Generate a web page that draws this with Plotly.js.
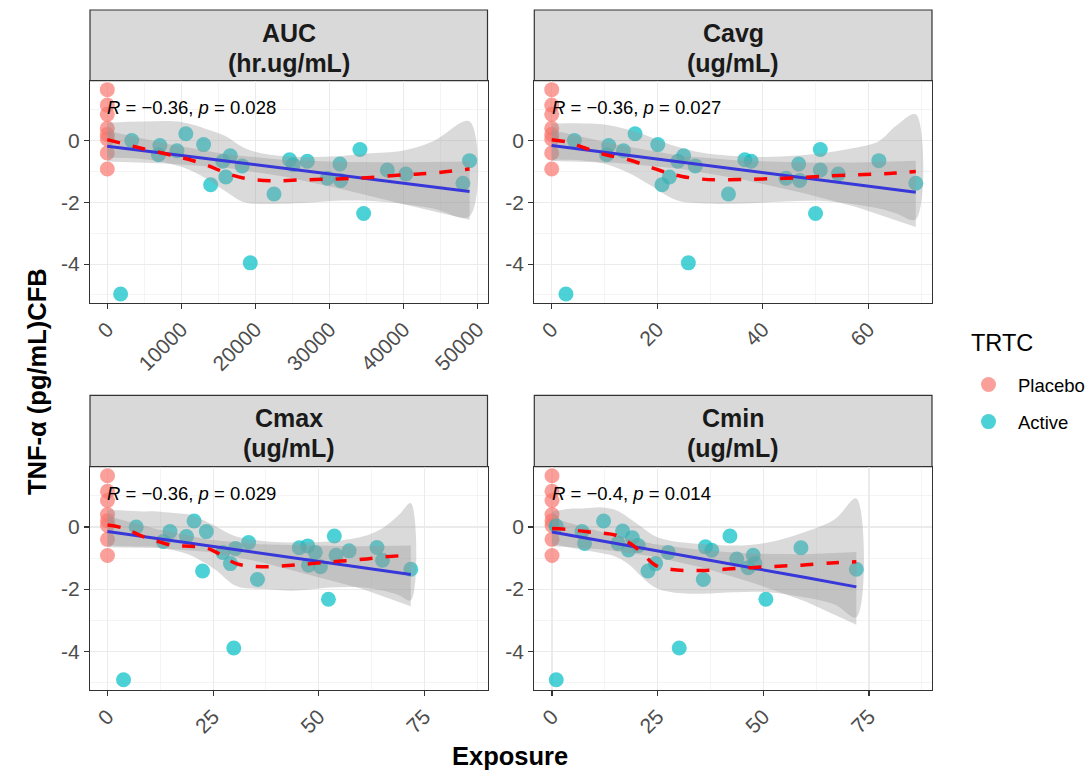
<!DOCTYPE html>
<html>
<head>
<meta charset="utf-8">
<script src="https://cdn.plot.ly/plotly-3.0.1.min.js"></script>
<style>html,body{margin:0;padding:0;background:#fff;}#chart{width:1092px;height:771px;}</style>
</head>
<body>
<div id="chart"></div>
<script>
// ---------- DATA ----------
var panelNames = ["AUC", "Cavg", "Cmax", "Cmin"];
var panelUnits = ["(hr.ug/mL)", "(ug/mL)", "(ug/mL)", "(ug/mL)"];
var corrLabels = ["<i>R</i> = \u22120.36, <i>p</i> = 0.028", "<i>R</i> = \u22120.36, <i>p</i> = 0.027",
                  "<i>R</i> = \u22120.36, <i>p</i> = 0.029", "<i>R</i> = \u22120.4, <i>p</i> = 0.014"];
var groupNames = ["Placebo", "Active"];
var legendTitle = "TRTC";

var placeboExposure = [0, 0, 0, 0, 0, 0, 0, 0];
var placeboCFB = [1.65, 1.15, 0.85, 0.4, 0.2, 0.05, -0.4, -0.92];

var aucX = [1800, 3300, 6900, 7100, 9400, 10600, 13000, 13950, 15600, 16000, 16600, 18200, 19300, 22500, 24600, 25100, 27000, 29700, 31400, 31500, 34100, 34600, 37800, 40300, 48000, 48900];
var aucY = [-4.97, 0.0, -0.46, -0.16, -0.33, 0.22, -0.13, -1.43, -0.67, -1.18, -0.49, -0.82, -3.96, -1.73, -0.62, -0.78, -0.67, -1.22, -0.76, -1.29, -0.29, -2.36, -0.95, -1.08, -1.38, -0.65];

var cavgX = [2.7, 4.3, 10.4, 10.8, 13.6, 15.8, 20.1, 20.9, 22.3, 23.9, 25.0, 25.9, 27.2, 33.5, 36.6, 37.8, 44.4, 46.8, 47.0, 50.9, 50.0, 50.9, 54.3, 62.0, 69.0];
var cavgY = [-4.97, 0.0, -0.46, -0.16, -0.33, 0.22, -0.13, -1.43, -1.18, -0.67, -0.49, -3.96, -0.82, -1.73, -0.62, -0.67, -1.22, -0.76, -1.29, -0.29, -2.36, -0.95, -1.08, -0.65, -1.38];

var cmaxX = [3.8, 6.8, 13.2, 14.8, 18.7, 20.5, 22.5, 23.4, 27.3, 29.1, 29.9, 30.3, 33.4, 35.5, 45.4, 47.4, 47.6, 49.2, 50.4, 52.3, 53.7, 54.1, 57.2, 63.8, 65.1, 71.8];
var cmaxY = [-4.92, 0.0, -0.47, -0.15, -0.31, 0.19, -1.42, -0.15, -0.82, -1.18, -3.9, -0.69, -0.5, -1.69, -0.67, -0.61, -1.23, -0.82, -1.28, -2.33, -0.29, -0.91, -0.77, -0.66, -1.07, -1.36];

var cminX = [1.0, 1.0, 7.1, 7.7, 12.2, 15.6, 16.7, 18.1, 19.0, 20.4, 22.7, 24.5, 27.5, 30.1, 35.8, 36.3, 37.8, 42.1, 43.7, 46.4, 47.6, 48.0, 50.6, 58.9, 72.0];
var cminY = [-4.92, 0.03, -0.15, -0.53, 0.19, -0.53, -0.13, -0.74, -0.35, -0.6, -1.42, -1.18, -0.82, -3.9, -1.69, -0.64, -0.75, -0.29, -1.03, -1.31, -0.91, -1.18, -2.33, -0.67, -1.36];

// linear fit (blue) and its confidence band
var aucLinX = [0, 8000, 16000, 24000, 32000, 40000, 48900];
var aucLinY = [-0.18, -0.42, -0.66, -0.90, -1.14, -1.38, -1.65];
var aucLinHi = [0.32, -0.10, -0.44, -0.63, -0.69, -0.70, -0.68];
var aucLinLo = [-0.68, -0.74, -0.88, -1.17, -1.59, -2.06, -2.56];
var cavgLinX = [0, 12, 24, 36, 48, 58, 69];
var cavgLinY = [-0.16, -0.42, -0.69, -0.95, -1.21, -1.43, -1.67];
var cavgLinHi = [0.34, -0.12, -0.48, -0.65, -0.71, -0.71, -0.65];
var cavgLinLo = [-0.66, -0.72, -0.90, -1.25, -1.71, -2.17, -2.80];
var cmaxLinX = [0, 12, 24, 36, 48, 60, 71.8];
var cmaxLinY = [-0.15, -0.38, -0.61, -0.84, -1.07, -1.30, -1.53];
var cmaxLinHi = [0.35, -0.08, -0.41, -0.56, -0.60, -0.62, -0.60];
var cmaxLinLo = [-0.65, -0.68, -0.81, -1.12, -1.54, -1.98, -2.55];
var cminLinX = [0, 12, 24, 36, 48, 60, 72];
var cminLinY = [-0.16, -0.45, -0.75, -1.04, -1.34, -1.63, -1.93];
var cminLinHi = [0.29, -0.17, -0.55, -0.76, -0.86, -0.88, -0.81];
var cminLinLo = [-0.61, -0.73, -0.95, -1.32, -1.82, -2.40, -3.15];

// loess fit (red dashed) and its band
var aucLoeX = [0, 5000, 10000, 13500, 16000, 18500, 22000, 26500, 31000, 35000, 40000, 44000, 48900];
var aucLoeY = [0.03, -0.27, -0.55, -0.8, -1.05, -1.22, -1.3, -1.27, -1.24, -1.2, -1.11, -1.05, -0.92];
var aucLoeHi = [0.58, 0.62, 0.6, 0.36, 0.14, -0.24, -0.46, -0.53, -0.51, -0.42, -0.32, -0.02, 0.62];
var aucLoeLo = [-0.55, -0.6, -0.85, -1.25, -1.65, -2.0, -2.05, -2.02, -1.95, -1.95, -2.05, -2.2, -2.45];
var cavgLoeX = [0, 3, 6.3, 10, 14.6, 18.7, 22, 24.7, 28, 31.6, 38, 44.3, 50.6, 57, 62, 65.2, 69];
var cavgLoeY = [0.03, -0.05, -0.24, -0.45, -0.62, -0.86, -1.05, -1.16, -1.24, -1.27, -1.25, -1.22, -1.16, -1.11, -1.08, -1.05, -1.0];
var cavgLoeHi = [0.55, 0.56, 0.55, 0.52, 0.35, 0.12, -0.1, -0.24, -0.38, -0.46, -0.53, -0.51, -0.42, -0.25, -0.02, 0.47, 0.85];
var cavgLoeLo = [-0.6, -0.62, -0.65, -0.75, -1.05, -1.45, -1.8, -1.98, -2.03, -2.05, -2.03, -1.97, -1.95, -2.05, -2.2, -2.35, -2.55];
var cmaxLoeX = [0, 3.8, 8.5, 11.6, 15.6, 19.5, 23.0, 25.8, 30.5, 36.8, 44.7, 52.5, 60.4, 65.1, 69.0, 71.8];
var cmaxLoeY = [0.06, -0.04, -0.31, -0.45, -0.6, -0.62, -0.66, -0.82, -1.18, -1.28, -1.22, -1.13, -1.04, -0.97, -0.93, -0.9];
var cmaxLoeHi = [0.55, 0.53, 0.5, 0.5, 0.45, 0.39, 0.2, 0.01, -0.31, -0.45, -0.5, -0.47, -0.31, -0.04, 0.39, 0.77];
var cmaxLoeLo = [-0.6, -0.62, -0.63, -0.65, -0.75, -0.9, -1.15, -1.4, -1.9, -2.0, -2.05, -1.95, -1.95, -2.05, -2.2, -2.36];
var cminLoeX = [0, 3.9, 7.9, 11.8, 14.9, 18.1, 21.2, 24.4, 28.3, 35.4, 43.3, 51.1, 59.0, 66.9, 72];
var cminLoeY = [-0.05, -0.08, -0.15, -0.2, -0.26, -0.49, -0.82, -1.23, -1.37, -1.40, -1.34, -1.28, -1.23, -1.15, -1.12];
var cminLoeHi = [0.5, 0.58, 0.6, 0.63, 0.55, 0.3, 0.0, -0.3, -0.45, -0.55, -0.6, -0.5, -0.2, 0.25, 0.92];
var cminLoeLo = [-0.55, -0.65, -0.75, -0.85, -0.95, -1.2, -1.6, -1.95, -2.1, -2.15, -2.1, -2.1, -2.25, -2.5, -2.91];

// axis ticks
var aucTicks = [0, 10000, 20000, 30000, 40000, 50000];
var aucTickText = ["0", "10000", "20000", "30000", "40000", "50000"];
var aucMinor = [5000, 15000, 25000, 35000, 45000];
var cavgTicks = [0, 20, 40, 60];
var cavgMinor = [10, 30, 50, 70];
var cTicks = [0, 25, 50, 75];
var cMinor = [12.5, 37.5, 62.5, 87.5];
var yTicks = [0, -2, -4];
var yTickText = ["0", "-2", "-4"];
var yMinor = [1, -1, -3, -5];

// ---------- BUILD ----------
var panels = [
  {x: aucX, y: aucY, lx: aucLinX, ly: aucLinY, lhi: aucLinHi, llo: aucLinLo, sx: aucLoeX, sy: aucLoeY, shi: aucLoeHi, slo: aucLoeLo,
   range: [-2335, 51320], ticks: aucTicks, ticktext: aucTickText, minor: aucMinor},
  {x: cavgX, y: cavgY, lx: cavgLinX, ly: cavgLinY, lhi: cavgLinHi, llo: cavgLinLo, sx: cavgLoeX, sy: cavgLoeY, shi: cavgLoeHi, slo: cavgLoeLo,
   range: [-3.3, 72.07], ticks: cavgTicks, ticktext: null, minor: cavgMinor},
  {x: cmaxX, y: cmaxY, lx: cmaxLinX, ly: cmaxLinY, lhi: cmaxLinHi, llo: cmaxLinLo, sx: cmaxLoeX, sy: cmaxLoeY, shi: cmaxLoeHi, slo: cmaxLoeLo,
   range: [-4.14, 89.96], ticks: cTicks, ticktext: null, minor: cMinor},
  {x: cminX, y: cminY, lx: cminLinX, ly: cminLinY, lhi: cminLinHi, llo: cminLinLo, sx: cminLoeX, sy: cminLoeY, shi: cminLoeHi, slo: cminLoeLo,
   range: [-4.19, 89.9], ticks: cTicks, ticktext: null, minor: cMinor}
];

var W = 1092, H = 771;
var colX = [[90, 487.5], [534.3, 932]];
var rowY = [[80.7, 302.7], [466.7, 690]];
var stripY = [[10, 80.7], [395.3, 466.7]];
var FONT = "Liberation Sans, Arial, sans-serif";
var placeboColor = "rgba(248,118,109,0.7)";
var activeColor = "rgba(0,191,196,0.7)";
var bandFill = "rgba(153,153,153,0.36)";

var traces = [];
var layout = {
  width: W, height: H,
  margin: {l: 0, r: 0, t: 0, b: 0},
  paper_bgcolor: "#fff", plot_bgcolor: "#fff",
  font: {family: FONT, color: "#000"},
  showlegend: true,
  legend: {
    x: 959 / W, y: 1 - 366 / H, xanchor: "left", yanchor: "top",
    font: {size: 18.5, family: FONT, color: "#000"},
    tracegroupgap: 10, bgcolor: "rgba(0,0,0,0)", itemwidth: 49
  },
  shapes: [], annotations: []
};

function rev(a) { return a.slice().reverse(); }

panels.forEach(function (p, i) {
  var col = i % 2, row = Math.floor(i / 2);
  var n = i === 0 ? "" : String(i + 1);
  var xa = "x" + n, ya = "y" + n;
  var cx = colX[col], ry = rowY[row], sy = stripY[row];

  layout["xaxis" + n] = {
    domain: [cx[0] / W, cx[1] / W], anchor: ya, range: p.range,
    tickvals: p.ticks, ticktext: p.ticktext || p.ticks.map(String), tickangle: -45,
    tickfont: {size: 21, color: "#4d4d4d", family: FONT},
    ticks: "outside", ticklen: 5, tickcolor: "#333", tickwidth: 1.1,
    showgrid: true, gridcolor: "#ebebeb", gridwidth: 1.1, zeroline: false,
    minor: {tickvals: p.minor, showgrid: true, gridcolor: "#ebebeb", gridwidth: 0.55, ticks: ""},
    showline: true, linecolor: "#333", linewidth: 1.2, mirror: true, automargin: false, fixedrange: true
  };
  layout["yaxis" + n] = {
    domain: [1 - ry[1] / H, 1 - ry[0] / H], anchor: xa, range: [-5.25, 1.94],
    tickvals: yTicks, ticktext: yTickText,
    tickfont: {size: 21, color: "#4d4d4d", family: FONT},
    ticks: "outside", ticklen: 5, tickcolor: "#333", tickwidth: 1.1,
    showgrid: true, gridcolor: "#ebebeb", gridwidth: 1.1, zeroline: false,
    minor: {tickvals: yMinor, showgrid: true, gridcolor: "#ebebeb", gridwidth: 0.55, ticks: ""},
    showline: true, linecolor: "#333", linewidth: 1.2, mirror: true, automargin: false, fixedrange: true
  };

  // points
  traces.push({type: "scatter", mode: "markers", x: placeboExposure, y: placeboCFB, xaxis: xa, yaxis: ya,
    name: groupNames[0], legendgroup: "g0", showlegend: i === 0,
    marker: {color: placeboColor, size: 15, line: {width: 0}}, hoverinfo: "skip"});
  traces.push({type: "scatter", mode: "markers", x: p.x, y: p.y, xaxis: xa, yaxis: ya,
    name: groupNames[1], legendgroup: "g1", showlegend: i === 0,
    marker: {color: activeColor, size: 15, line: {width: 0}}, hoverinfo: "skip"});

  // linear band + line
  traces.push({type: "scatter", mode: "lines", x: p.lx.concat(rev(p.lx)), y: p.lhi.concat(rev(p.llo)),
    xaxis: xa, yaxis: ya, fill: "toself", fillcolor: bandFill, line: {width: 0}, showlegend: false, hoverinfo: "skip"});
  traces.push({type: "scatter", mode: "lines", x: p.lx, y: p.ly, xaxis: xa, yaxis: ya,
    line: {color: "#0000ff", width: 3}, showlegend: false, hoverinfo: "skip"});

  // loess band + line
  traces.push({type: "scatter", mode: "lines", x: p.sx.concat(rev(p.sx)), y: p.shi.concat(rev(p.slo)),
    xaxis: xa, yaxis: ya, fill: "toself", fillcolor: bandFill, line: {width: 0, shape: "spline"}, showlegend: false, hoverinfo: "skip"});
  traces.push({type: "scatter", mode: "lines", x: p.sx, y: p.sy, xaxis: xa, yaxis: ya,
    line: {color: "#ff0000", width: 3.5, dash: "13px,13px", shape: "spline"}, showlegend: false, hoverinfo: "skip"});

  // strip
  layout.shapes.push({type: "rect", xref: "paper", yref: "paper",
    x0: cx[0] / W, x1: cx[1] / W, y0: 1 - sy[1] / H, y1: 1 - sy[0] / H,
    fillcolor: "#d9d9d9", line: {color: "#333", width: 1.2}, layer: "below"});
  var midX = (cx[0] + cx[1]) / 2 / W;
  layout.annotations.push({xref: "paper", yref: "paper", x: midX, y: 1 - (sy[0] + 23) / H,
    text: "<b>" + panelNames[i] + "</b>", showarrow: false, xanchor: "center", yanchor: "middle",
    font: {size: 25, family: FONT, color: "#1a1a1a"}});
  layout.annotations.push({xref: "paper", yref: "paper", x: midX, y: 1 - (sy[0] + 52.5) / H,
    text: "<b>" + panelUnits[i] + "</b>", showarrow: false, xanchor: "center", yanchor: "middle",
    font: {size: 25, family: FONT, color: "#1a1a1a"}});

  // correlation label
  layout.annotations.push({xref: xa, yref: ya, x: 0, y: 1.07, text: corrLabels[i], showarrow: false,
    xanchor: "left", yanchor: "middle", xshift: -2, font: {size: 18.5, family: FONT, color: "#000"}});
});

// legend title and axis titles
layout.annotations.push({xref: "paper", yref: "paper", x: 969 / W, y: 1 - 343 / H, text: legendTitle,
  showarrow: false, xanchor: "left", yanchor: "middle", font: {size: 23.5, family: FONT, color: "#000"}});
layout.annotations.push({xref: "paper", yref: "paper", x: 37 / W, y: 1 - 382 / H, text: "<b>TNF-\u03b1 (pg/mL)CFB</b>",
  textangle: -90, showarrow: false, xanchor: "center", yanchor: "middle", font: {size: 25.5, family: FONT, color: "#000"}});
layout.annotations.push({xref: "paper", yref: "paper", x: 510 / W, y: 1 - 756 / H, text: "<b>Exposure</b>",
  showarrow: false, xanchor: "center", yanchor: "middle", font: {size: 25.5, family: FONT, color: "#000"}});

Plotly.newPlot("chart", traces, layout, {displayModeBar: false, staticPlot: true});
</script>
</body>
</html>
